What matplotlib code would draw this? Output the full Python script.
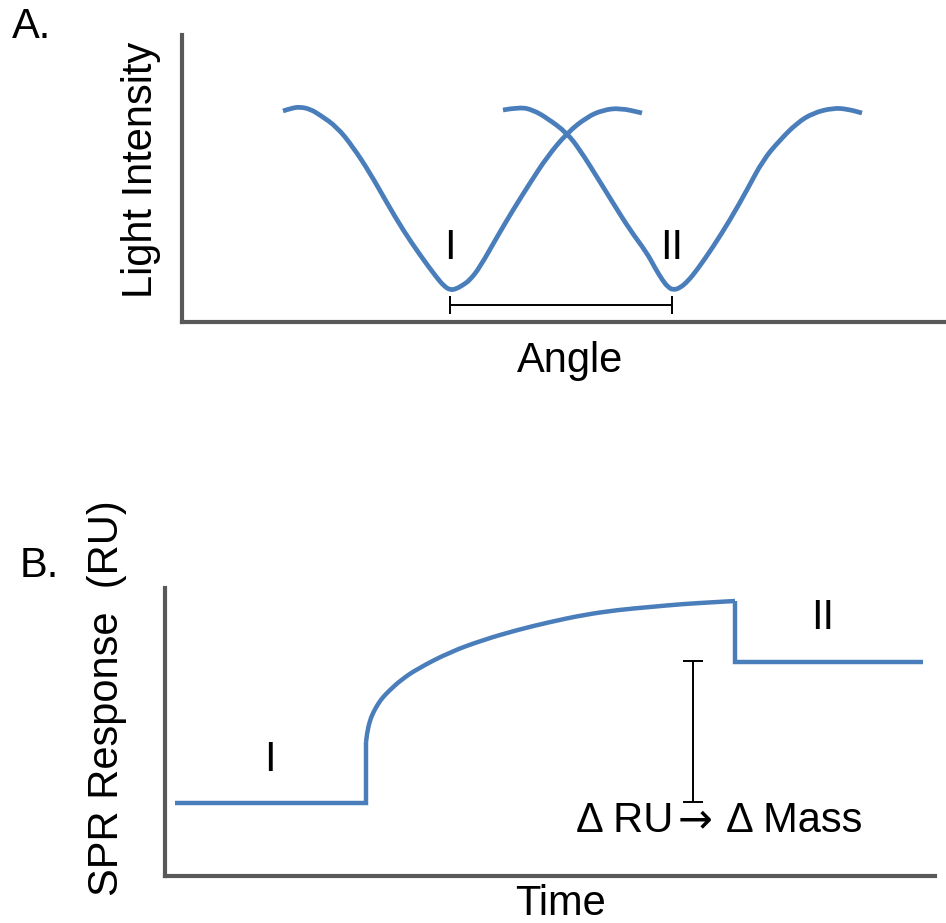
import matplotlib
matplotlib.use('Agg')
import matplotlib.pyplot as plt
from matplotlib.path import Path
from matplotlib.patches import PathPatch

plt.rcParams['font.family'] = ['Liberation Sans', 'DejaVu Sans']

######################################
# panel A : reflectivity dips (arbitrary units)
angle_I = [101, 110, 118, 128, 138, 155, 171, 188, 205, 221, 238, 255, 262, 268,
           274, 281, 288, 298, 315, 331, 348, 365, 385, 405, 421, 438, 460]
light_I = [211, 214, 215, 213, 207, 195, 175, 149, 119, 92, 67, 44, 36, 32,
           33, 37, 42, 55, 85, 112, 139, 165, 189, 205, 212, 214, 209]
angle_II = [321, 338, 351, 365, 385, 398, 415, 431, 448, 465, 473, 481, 486, 491,
            498, 506, 515, 531, 548, 565, 581, 598, 615, 631, 651, 665, 680]
light_II = [212, 215, 212, 204, 189, 172, 145, 119, 92, 69, 54, 41, 35, 32,
            34, 41, 52, 75, 102, 132, 162, 182, 199, 209, 214, 213, 209]
min_I = 268
min_II = 490
shift_level = 17
dip_labels = ['I', 'II']
dip_label_y = 74

# panel B : sensorgram (arbitrary units)
base_t = [10, 201, 201]
base_r = [73, 73, 134]
assoc_t = [201, 202, 205, 209, 213, 218, 226, 236, 252, 285, 318, 352, 385, 418,
           452, 485, 518, 552, 570]
assoc_r = [134, 143, 156, 165, 172, 179, 187, 196, 207, 224, 236, 246, 254, 261,
           266, 269, 272, 274, 275]
dissoc_t = [570, 570, 758]
dissoc_r = [275, 214, 214]
delta_x = 528
delta_lo = 74
delta_hi = 215
phase_labels = ['I', 'II']
phase_x = [105, 658]
phase_y = [116, 258]
######################################

blue = '#4a7ebb'
grey = '#595959'
fs = 30

fig = plt.figure(figsize=(9.46, 9.23), dpi=100)


def style_axes(ax):
    for s in ['top', 'right']:
        ax.spines[s].set_visible(False)
    for s in ['left', 'bottom']:
        ax.spines[s].set_color(grey)
        ax.spines[s].set_linewidth(3)
    ax.set_xticks([])
    ax.set_yticks([])
    ax.patch.set_alpha(0)


def smooth_line(ax, xs, ys, lw):
    # quadratic bezier through segment midpoints, data points act as controls
    pts = list(zip(xs, ys))
    verts = [pts[0]]
    codes = [Path.MOVETO]
    for i in range(1, len(pts) - 1):
        mid = ((pts[i][0] + pts[i + 1][0]) / 2, (pts[i][1] + pts[i + 1][1]) / 2)
        verts += [pts[i], mid]
        codes += [Path.CURVE3, Path.CURVE3]
    verts.append(pts[-1])
    codes.append(Path.LINETO)
    ax.add_patch(PathPatch(Path(verts, codes), fill=False, edgecolor=blue, lw=lw,
                           capstyle='butt', joinstyle='round'))


# A.
axA = fig.add_axes([182/946, 1-322/923, 764/946, 287/923])
style_axes(axA)
axA.set_xlim(0, 764)
axA.set_ylim(0, 287)
smooth_line(axA, angle_I, light_I, 3.4)
smooth_line(axA, angle_II, light_II, 3.4)
axA.errorbar((min_I + min_II) / 2, shift_level, xerr=(min_II - min_I) / 2, color='black',
             lw=1.4, capsize=6.2, capthick=1.4, fmt='none')
axA.text(min_I, dip_label_y, dip_labels[0], fontsize=fs, ha='center', va='center')
axA.text(min_II, dip_label_y, dip_labels[1], fontsize=fs, ha='center', va='center')

fig.text(570/946, 1-372/923, 'Angle', fontsize=fs, ha='center', va='baseline')
fig.text(141/946, 1-170/923, 'Light Intensity', fontsize=fs, ha='center', va='center',
         rotation=90)
fig.text(12/946, 1-38/923, 'A.', fontsize=fs, ha='left', va='baseline')

# B.
axB = fig.add_axes([165/946, 1-876/923, 770/946, 288/923])
style_axes(axB)
axB.set_xlim(0, 770)
axB.set_ylim(0, 288)
axB.plot(base_t, base_r, color=blue, lw=3.2, solid_capstyle='butt', solid_joinstyle='miter')
smooth_line(axB, assoc_t, assoc_r, 3.2)
axB.plot(dissoc_t, dissoc_r, color=blue, lw=3.2, solid_capstyle='butt', solid_joinstyle='miter')
axB.errorbar(delta_x, (delta_lo + delta_hi) / 2, yerr=(delta_hi - delta_lo) / 2, color='black',
             lw=1.4, capsize=7.2, capthick=1.4, fmt='none')
for lab, px, py in zip(phase_labels, phase_x, phase_y):
    axB.text(px, py, lab, fontsize=fs, ha='center', va='center')
axB.text(508, 44, '\u0394 RU', fontsize=fs, ha='right', va='baseline')
axB.text(530, 44, '\u2192', fontsize=fs, ha='center', va='baseline',
         family='DejaVu Sans')
axB.text(561, 44, '\u0394 Mass', fontsize=fs, ha='left', va='baseline')

fig.text(560/946, 1-915/923, 'Time', fontsize=fs, ha='center', va='baseline')
fig.text(107/946, 1-698/923, 'SPR Response  (RU)', fontsize=fs, ha='center', va='center',
         rotation=90)
fig.text(20/946, 1-577/923, 'B.', fontsize=fs, ha='left', va='baseline')

fig.savefig('out.png', dpi=100, facecolor='white')
